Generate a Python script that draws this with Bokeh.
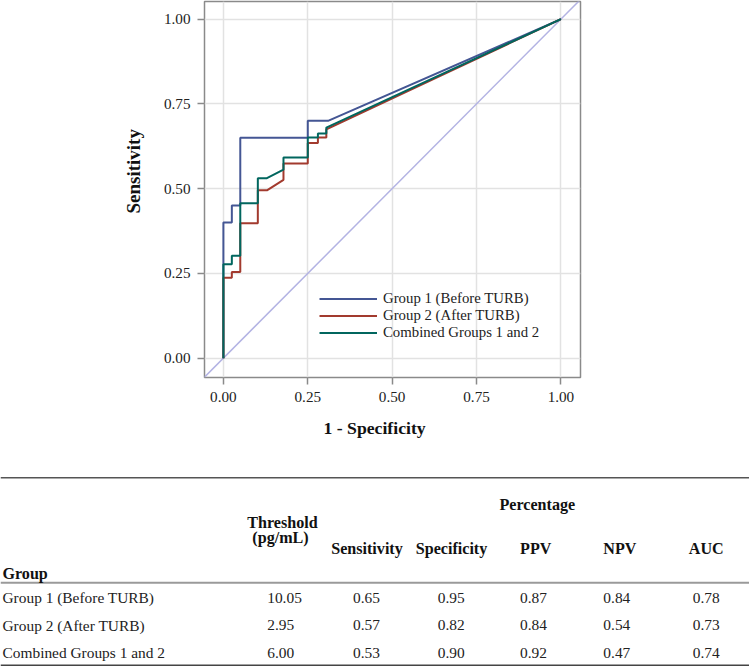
import math
from bokeh.plotting import figure
from bokeh.models import (Range1d, FixedTicker, NumeralTickFormatter, Legend,
                          LegendItem, Title)
from bokeh.embed import file_html
from bokeh.resources import INLINE
from bokeh.core.properties import value

# ---------------- data ----------------
g1_fpr = [0.0, 0.0, 0.025, 0.025, 0.05, 0.05, 0.25, 0.25, 0.31, 1.0]
g1_tpr = [0.0, 0.40, 0.40, 0.45, 0.45, 0.65, 0.65, 0.70, 0.70, 1.0]

g2_fpr = [0.0, 0.0, 0.025, 0.025, 0.05, 0.05, 0.102, 0.102, 0.129, 0.178,
          0.178, 0.25, 0.25, 0.28, 0.28, 0.305, 0.305, 1.0]
g2_tpr = [0.0, 0.237, 0.237, 0.254, 0.254, 0.398, 0.398, 0.495, 0.495, 0.526,
          0.574, 0.574, 0.635, 0.635, 0.651, 0.651, 0.675, 1.0]

gc_fpr = [0.0, 0.0, 0.025, 0.025, 0.05, 0.05, 0.102, 0.102, 0.129, 0.178,
          0.178, 0.25, 0.25, 0.28, 0.28, 0.305, 0.305, 1.0]
gc_tpr = [0.0, 0.277, 0.277, 0.302, 0.302, 0.457, 0.457, 0.531, 0.531, 0.556,
          0.592, 0.592, 0.651, 0.651, 0.663, 0.663, 0.68, 1.0]

chance_line = [-0.1, 1.1]
axis_ticks = [0.0, 0.25, 0.5, 0.75, 1.0]

series_names = ["Group 1 (Before TURB)", "Group 2 (After TURB)", "Combined Groups 1 and 2"]
series_colors = ["#445694", "#A23A2E", "#01665E"]

groups = ["Group 1 (Before TURB)", "Group 2 (After TURB)", "Combined Groups 1 and 2"]
threshold = [10.05, 2.95, 6.00]
sensitivity = [0.65, 0.57, 0.53]
specificity = [0.95, 0.82, 0.90]
ppv = [0.87, 0.84, 0.92]
npv = [0.84, 0.54, 0.47]
auc = [0.78, 0.73, 0.74]

FONT = "Liberation Serif"

# ---------------- ROC figure ----------------
p = figure(width=749, height=460,
           x_range=Range1d(-0.056, 1.058), y_range=Range1d(-0.057, 1.052),
           output_backend="svg", toolbar_location=None,
           min_border_left=204, min_border_right=169,
           min_border_top=1, min_border_bottom=83)
p.background_fill_color = "white"
p.outline_line_color = "#8a8a8a"
p.outline_line_width = 1.5

for g in (p.xgrid, p.ygrid):
    g.ticker = FixedTicker(ticks=axis_ticks)
    g.grid_line_color = "#e2e2e2"
    g.grid_line_width = 1.5

for ax in (p.xaxis, p.yaxis):
    ax.ticker = FixedTicker(ticks=axis_ticks)
    ax.formatter = NumeralTickFormatter(format="0.00")
    ax.axis_line_color = None
    ax.major_tick_line_color = "#8a8a8a"
    ax.major_tick_line_width = 1.5
    ax.major_tick_out = 7
    ax.major_tick_in = 0
    ax.minor_tick_line_color = None
    ax.major_label_text_font = FONT
    ax.major_label_text_font_size = "15.2px"
    ax.major_label_text_color = "#222222"
    ax.major_label_standoff = 7

p.line(chance_line, chance_line, line_color="#b3b3e3", line_width=1.5)

renderers = []
for fx, fy, col in ((g1_fpr, g1_tpr, series_colors[0]),
                    (g2_fpr, g2_tpr, series_colors[1]),
                    (gc_fpr, gc_tpr, series_colors[2])):
    r = p.line(fx, fy, line_color=col, line_width=2)
    renderers.append(r)

legend = Legend(items=[LegendItem(label=n, renderers=[r]) for n, r in zip(series_names, renderers)],
                location=(115, 36), orientation="vertical",
                border_line_color=None, background_fill_alpha=0,
                padding=0, margin=0, spacing=0,
                glyph_width=58, glyph_height=17, label_height=17,
                label_standoff=6, label_text_font=FONT,
                label_text_font_size="14.8px", label_text_color="#222222",
                label_text_baseline="middle")
p.add_layout(legend)

p.add_layout(Title(text="1 - Specificity", align="left", offset=119,
                   text_font=FONT, text_font_style="bold", text_font_size="17.7px",
                   text_color="#111111", standoff=22), "below")
p.add_layout(Title(text="Sensitivity", align="left", offset=164,
                   text_font=FONT, text_font_style="bold", text_font_size="19px",
                   text_color="#111111", standoff=34), "left")

# ---------------- table figure ----------------
t = figure(width=749, height=206, x_range=Range1d(0, 749), y_range=Range1d(666, 460),
           output_backend="svg", toolbar_location=None, min_border=0,
           x_axis_location=None, y_axis_location=None)
t.grid.visible = False
t.outline_line_color = None

t.segment(x0=[0, 0, 0], y0=[477.3, 582.3, 665.0], x1=[749, 749, 749], y1=[477.3, 582.3, 665.0],
          line_color=["#555555", "#9a9a9a", "#444444"], line_width=[1.5, 2, 1.8])

dy = -5  # baseline correction
hdr_text = ["Percentage", "Threshold", "(pg/mL)", "Sensitivity", "Specificity", "PPV", "NPV", "AUC"]
hdr_x = [536.8, 282, 280, 366.5, 451, 535.2, 619.3, 705.7]
hdr_y = [v + dy for v in [509.3, 526.7, 542.3, 553.3, 553.3, 553.3, 553.3, 553.3]]
t.text(x=hdr_x, y=hdr_y, text=hdr_text, text_align="center", text_baseline="alphabetic",
       text_font=value(FONT), text_font_style="bold", text_font_size="16.1px",
       text_color="#111111")
t.text(x=[2], y=[578.3 + dy], text=["Group"], text_align="left", text_baseline="alphabetic",
       text_font=value(FONT), text_font_style="bold", text_font_size="16.1px",
       text_color="#111111")

row_y = [v + dy - 1.5 for v in [603.7, 631.3, 658.5]]
t.text(x=[2] * 3, y=row_y, text=groups, text_align="left", text_baseline="alphabetic",
       text_font=value(FONT), text_font_size="15.4px", text_color="#222222")
t.text(x=[266.7] * 3, y=row_y, text=[f"{v:.2f}" for v in threshold], text_align="left",
       text_baseline="alphabetic", text_font=value(FONT), text_font_size="15.4px",
       text_color="#222222")
for col_vals, cx in ((sensitivity, 366), (specificity, 450.7), (ppv, 533),
                     (npv, 616.3), (auc, 705.7)):
    t.text(x=[cx] * 3, y=row_y, text=[f"{v:.2f}" for v in col_vals], text_align="center",
           text_baseline="alphabetic", text_font=value(FONT), text_font_size="15.4px",
           text_color="#222222")

open("out.html", "w").write(file_html([p, t], INLINE))
